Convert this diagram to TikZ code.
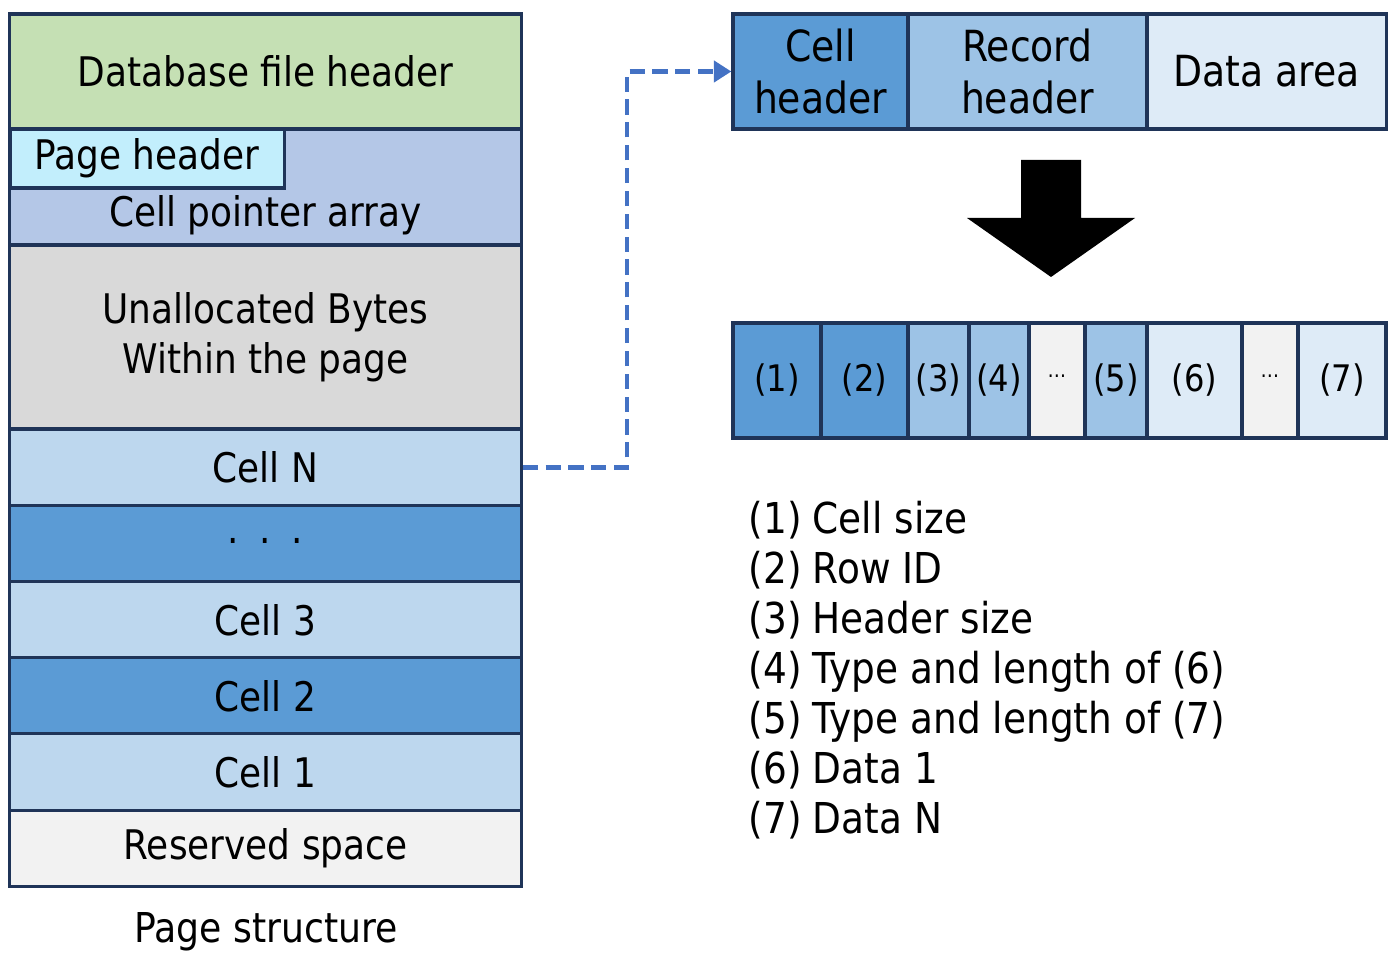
\documentclass[tikz,border=0pt]{standalone}
\usepackage{fontspec}
\setmainfont{DejaVu Sans}[FakeStretch = 0.88]
\usetikzlibrary{arrows.meta}

\definecolor{navy}{HTML}{1F3458}
\definecolor{dkblue}{HTML}{5B9BD5}
\definecolor{mdblue}{HTML}{9DC3E6}
\definecolor{ltblue}{HTML}{DEEBF7}
\definecolor{cellblue}{HTML}{BDD7EE}
\definecolor{ptrblue}{HTML}{B4C7E7}
\definecolor{cyanish}{HTML}{C2EEFC}
\definecolor{hdrgreen}{HTML}{C5E0B4}
\definecolor{unalloc}{HTML}{D9D9D9}
\definecolor{lgray}{HTML}{F2F2F2}
\definecolor{linkblue}{HTML}{4472C4}

\newcommand{\gapdots}{\raisebox{2.5pt}{\fontsize{6}{6}\selectfont …}}

\tikzset{
	blk/.style = {draw = navy, line width = 0.9pt, inner sep = 0pt, align = center,
		font = \fontsize{11.6}{14.2}\selectfont},
	topblk/.style = {blk, font = \fontsize{12.2}{14.8}\selectfont},
	barblk/.style = {blk, font = \fontsize{10.4}{12}\selectfont},
	legtext/.style = {anchor = base west, inner sep = 0pt, font = \fontsize{12.1}{14}\selectfont}
}

\begin{document}
\begin{tikzpicture}[x = 0.01cm, y = -0.01cm]
	\useasboundingbox (0,0) rectangle (1400,961);

	% page structure
	\node [blk, fill = hdrgreen, minimum width = 5.11cm, minimum height = 1.15cm] (dbhdr) at (265.5,71.5) {Database file header};
	\node [blk, fill = ptrblue, minimum width = 5.11cm, minimum height = 1.16cm] (cpa) at (265.5,187) {};
	\node [blk, fill = cyanish, minimum width = 2.74cm, minimum height = 0.59cm] (pghdr) at (147,158.5) {Page header};
	\node [inner sep = 0pt, font = \fontsize{11.6}{14.2}\selectfont] (cpalbl) at (265.5,215) {Cell pointer array};
	\node [blk, fill = unalloc, minimum width = 5.11cm, minimum height = 1.84cm] (free) at (265.5,337) {Unallocated Bytes\\Within the page};

	\foreach \y/\t/\c [count = \i] in {467.5/Cell N/cellblue, 544/\raisebox{2pt}{.\hspace{0.5em}.\hspace{0.5em}.}/dkblue, 620/Cell 3/cellblue, 696/Cell 2/dkblue, 772/Cell 1/cellblue, 848.5/Reserved space/lgray}
	{
		\node [blk, fill = \c, minimum width = 5.11cm, minimum height = 0.765cm] (row\i) at (265.5,\y) {\t};
	}

	\node [font = \fontsize{11.7}{14}\selectfont] (caption) at (266,932) {Page structure};

	% cell layout
	\node [topblk, fill = dkblue, minimum width = 1.75cm, minimum height = 1.15cm] (cellhdr) at (820.5,71.5) {Cell\\header};
	\node [topblk, fill = mdblue, minimum width = 2.39cm, minimum height = 1.15cm] (rechdr) at (1027.5,71.5) {Record\\header};
	\node [topblk, fill = ltblue, minimum width = 2.39cm, minimum height = 1.15cm] (data) at (1266.5,71.5) {Data area};

	\fill [black] (1021,160) -- (1081,160) -- (1081,218) -- (1135,218) -- (1051,277) -- (967,218) -- (1021,218) -- cycle;

	\foreach \l/\r/\t/\c [count = \i] in {733/821/(1)/dkblue, 821/908/(2)/dkblue, 908/969/(3)/mdblue, 969/1029/(4)/mdblue, 1029/1085/\gapdots/lgray, 1085/1147/(5)/mdblue, 1147/1242/(6)/ltblue, 1242/1298/\gapdots/lgray, 1298/1386/(7)/ltblue}
	{
		\node [barblk, fill = \c, minimum width = {(\r-\l)*0.01cm}, minimum height = 1.15cm] (bar\i) at ({(\l+\r)/2},380.5) {\t};
	}

	% link
	\draw [linkblue, line width = 1.4pt, dash pattern = on 4.3pt off 2.2pt, -{Triangle[length = 5pt, width = 6pt]}]
		(row1.east) -| (627,71.5) -- (cellhdr.west);

	% legend
	\foreach \t [count = \i] in {Cell size, Row ID, Header size, Type and length of (6), Type and length of (7), Data 1, Data N}
	{
		\node [legtext] (num\i) at (748,{533+50*(\i-1)}) {(\i)};
		\node [legtext] (leg\i) at (812,{533+50*(\i-1)}) {\t};
	}
\end{tikzpicture}
\end{document}
